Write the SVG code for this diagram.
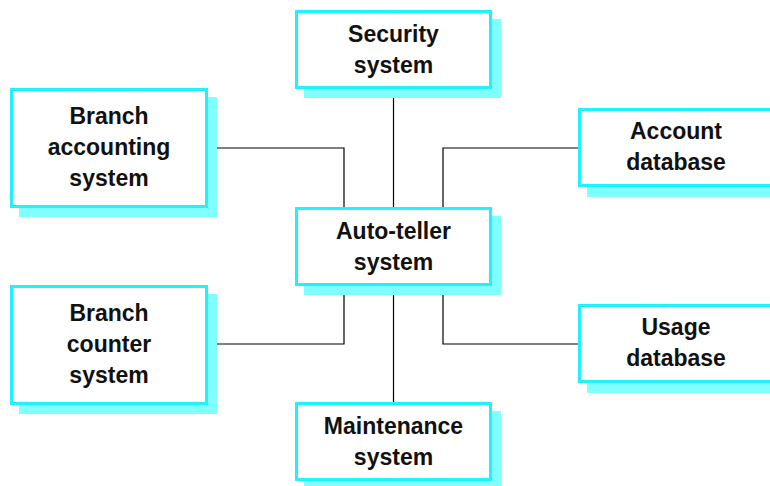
<svg xmlns="http://www.w3.org/2000/svg" width="770" height="486" viewBox="0 0 770 486">
<style>
.sh{fill:#80ffff;stroke:none}
.bx{fill:#fff;stroke:#1ef2ff;stroke-width:3}
.t{font-family:"Liberation Sans",Arial,sans-serif;font-size:23px;font-weight:bold;fill:#111;text-anchor:middle}
.c{fill:none;stroke:#000;stroke-width:1.2}
</style>
<rect width="770" height="486" fill="#fff"/>
<g id="connectors">
<line class="c" x1="393.5" y1="89" x2="393.5" y2="207"/>
<polyline class="c" points="208,148 344,148 344,207"/>
<polyline class="c" points="578,148 443,148 443,207"/>
<polyline class="c" points="208,344 344,344 344,286"/>
<polyline class="c" points="578,344 443,344 443,286"/>
<line class="c" x1="393.5" y1="286" x2="393.5" y2="402"/>
</g>
<g id="security">
<rect class="sh" x="304" y="19" width="197" height="79"/>
<rect class="bx" x="296.5" y="11.5" width="194" height="76"/>
<text class="t" x="393.5" y="42">Security</text>
<text class="t" x="393.5" y="73">system</text>
</g>
<g id="branch-accounting">
<rect class="sh" x="19" y="97" width="198" height="120"/>
<rect class="bx" x="11.5" y="89.5" width="195" height="117"/>
<text class="t" x="109" y="124">Branch</text>
<text class="t" x="109" y="155">accounting</text>
<text class="t" x="109" y="186">system</text>
</g>
<g id="account-database">
<rect class="sh" x="587" y="117" width="197" height="80"/>
<rect class="bx" x="579.5" y="109.5" width="194" height="76"/>
<text class="t" x="676" y="139">Account</text>
<text class="t" x="676" y="170">database</text>
</g>
<g id="auto-teller">
<rect class="sh" x="304" y="216" width="197" height="79"/>
<rect class="bx" x="296.5" y="208.5" width="194" height="76"/>
<text class="t" x="393.5" y="239">Auto-teller</text>
<text class="t" x="393.5" y="270">system</text>
</g>
<g id="branch-counter">
<rect class="sh" x="19" y="294" width="198" height="120"/>
<rect class="bx" x="11.5" y="286.5" width="195" height="117"/>
<text class="t" x="109" y="321">Branch</text>
<text class="t" x="109" y="352">counter</text>
<text class="t" x="109" y="383">system</text>
</g>
<g id="usage-database">
<rect class="sh" x="587" y="313" width="197" height="80"/>
<rect class="bx" x="579.5" y="305.5" width="194" height="76"/>
<text class="t" x="676" y="335">Usage</text>
<text class="t" x="676" y="366">database</text>
</g>
<g id="maintenance">
<rect class="sh" x="304" y="411" width="197" height="79"/>
<rect class="bx" x="296.5" y="403.5" width="194" height="76"/>
<text class="t" x="393.5" y="434">Maintenance</text>
<text class="t" x="393.5" y="465">system</text>
</g>
</svg>
